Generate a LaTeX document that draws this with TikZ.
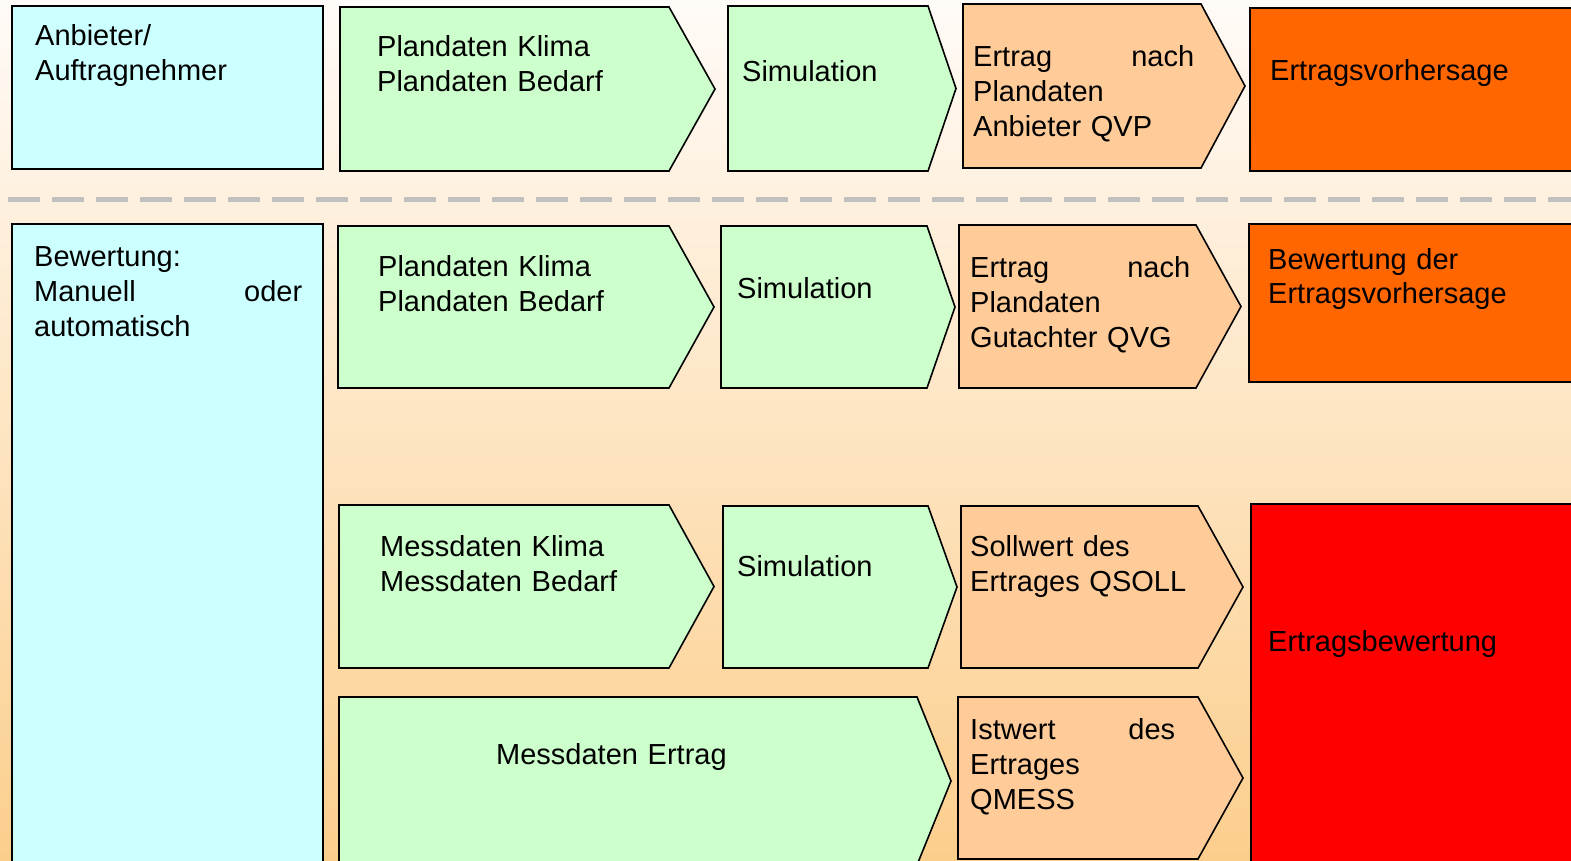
\documentclass[tikz,border=0pt]{standalone}
\usepackage{fontspec}
\setmainfont{Liberation Sans}
\definecolor{cblue}{HTML}{CCFFFF}
\definecolor{cgreen}{HTML}{CCFFCC}
\definecolor{corange}{HTML}{FFCC99}
\definecolor{cdark}{HTML}{FF6600}
\definecolor{cred}{HTML}{FF0000}
\definecolor{bgtop}{HTML}{FFFBF8}
\definecolor{bgmid}{HTML}{FEE8CC}
\definecolor{bgbot}{HTML}{FCCE8C}
\definecolor{dashgray}{HTML}{C0C0C0}
\newcommand{\chevshape}[6]{% x1 y1 x2 y2 xtip fill
  \path[shapeline,fill=#6] (#1,#2) -- (#3,#2) -- (#5,{(#2+#4)/2}) -- (#3,#4) -- (#1,#4) -- cycle;}
\begin{document}
\begin{tikzpicture}[x=1pt,y=-1pt,
  shapeline/.style={draw=black,line width=1.6pt,line join=miter},
  lbl/.style={anchor=base west,inner sep=0pt,text width=#1,align=left,
    font=\fontsize{29}{35}\selectfont},
  lbl/.default=300pt]
\useasboundingbox (0,0) rectangle (1571,861);
\shade[top color=bgtop,middle color=bgmid,bottom color=bgbot] (0,0) rectangle (1571,861);
% separator
\draw[dashgray,line width=5pt,dash pattern=on 32pt off 12pt] (8,200) -- (1571,200);
% row 1
\path[shapeline,fill=cblue] (12,6) rectangle (323,169);
\chevshape{340}{7}{669}{171}{715}{cgreen}
\chevshape{728}{6}{928}{171}{956}{cgreen}
\chevshape{963}{4}{1201}{168}{1245}{corange}
\path[shapeline,fill=cdark] (1250,8) rectangle (1575,171);
% row 2
\path[shapeline,fill=cblue] (12,224) rectangle (323,866);
\chevshape{338}{226}{669}{388}{714}{cgreen}
\chevshape{721}{226}{927}{388}{955}{cgreen}
\chevshape{959}{225}{1196}{388}{1241}{corange}
\path[shapeline,fill=cdark] (1249,224) rectangle (1575,382);
% row 3
\chevshape{339}{505}{669}{668}{714}{cgreen}
\chevshape{723}{506}{928}{668}{957}{cgreen}
\chevshape{961}{506}{1198}{668}{1243}{corange}
\path[shapeline,fill=cred] (1251,504) rectangle (1575,866);
% row 4
\chevshape{339}{697}{917}{865}{951}{cgreen}
\chevshape{958}{697}{1198}{859}{1243}{corange}
% texts
\node[lbl] (t1) at (35,46) {Anbieter/\\Auftragnehmer};
\node[lbl] (t2) at (377,57) {Plandaten Klima\\Plandaten Bedarf};
\node[lbl] (t3) at (742,82) {Simulation};
\node[lbl=221pt] (t4) at (973,67) {Ertrag\hfill nach\\Plandaten\\Anbieter QVP};
\node[lbl] (t5) at (1270,81) {Ertragsvorhersage};
\node[lbl=268pt] (t6) at (34,266) {Bewertung:\\Manuell\hfill oder\\automatisch};
\node[lbl] (t7) at (378,276) {Plandaten Klima\\Plandaten Bedarf};
\node[lbl] (t8) at (737,298) {Simulation};
\node[lbl=220pt] (t9) at (970,277) {Ertrag\hfill nach\\Plandaten\\Gutachter QVG};
\node[lbl] (t10) at (1268,269) {Bewertung der\\Ertragsvorhersage};
\node[lbl] (t11) at (380,556) {Messdaten Klima\\Messdaten Bedarf};
\node[lbl] (t12) at (737,576) {Simulation};
\node[lbl] (t13) at (970,556) {Sollwert des\\Ertrages QSOLL};
\node[lbl] (t14) at (1268,651) {Ertragsbewertung};
\node[lbl] (t15) at (496,764) {Messdaten Ertrag};
\node[lbl=205pt] (t16) at (970,739) {Istwert\hfill des\\Ertrages\\QMESS};
\end{tikzpicture}
\end{document}
